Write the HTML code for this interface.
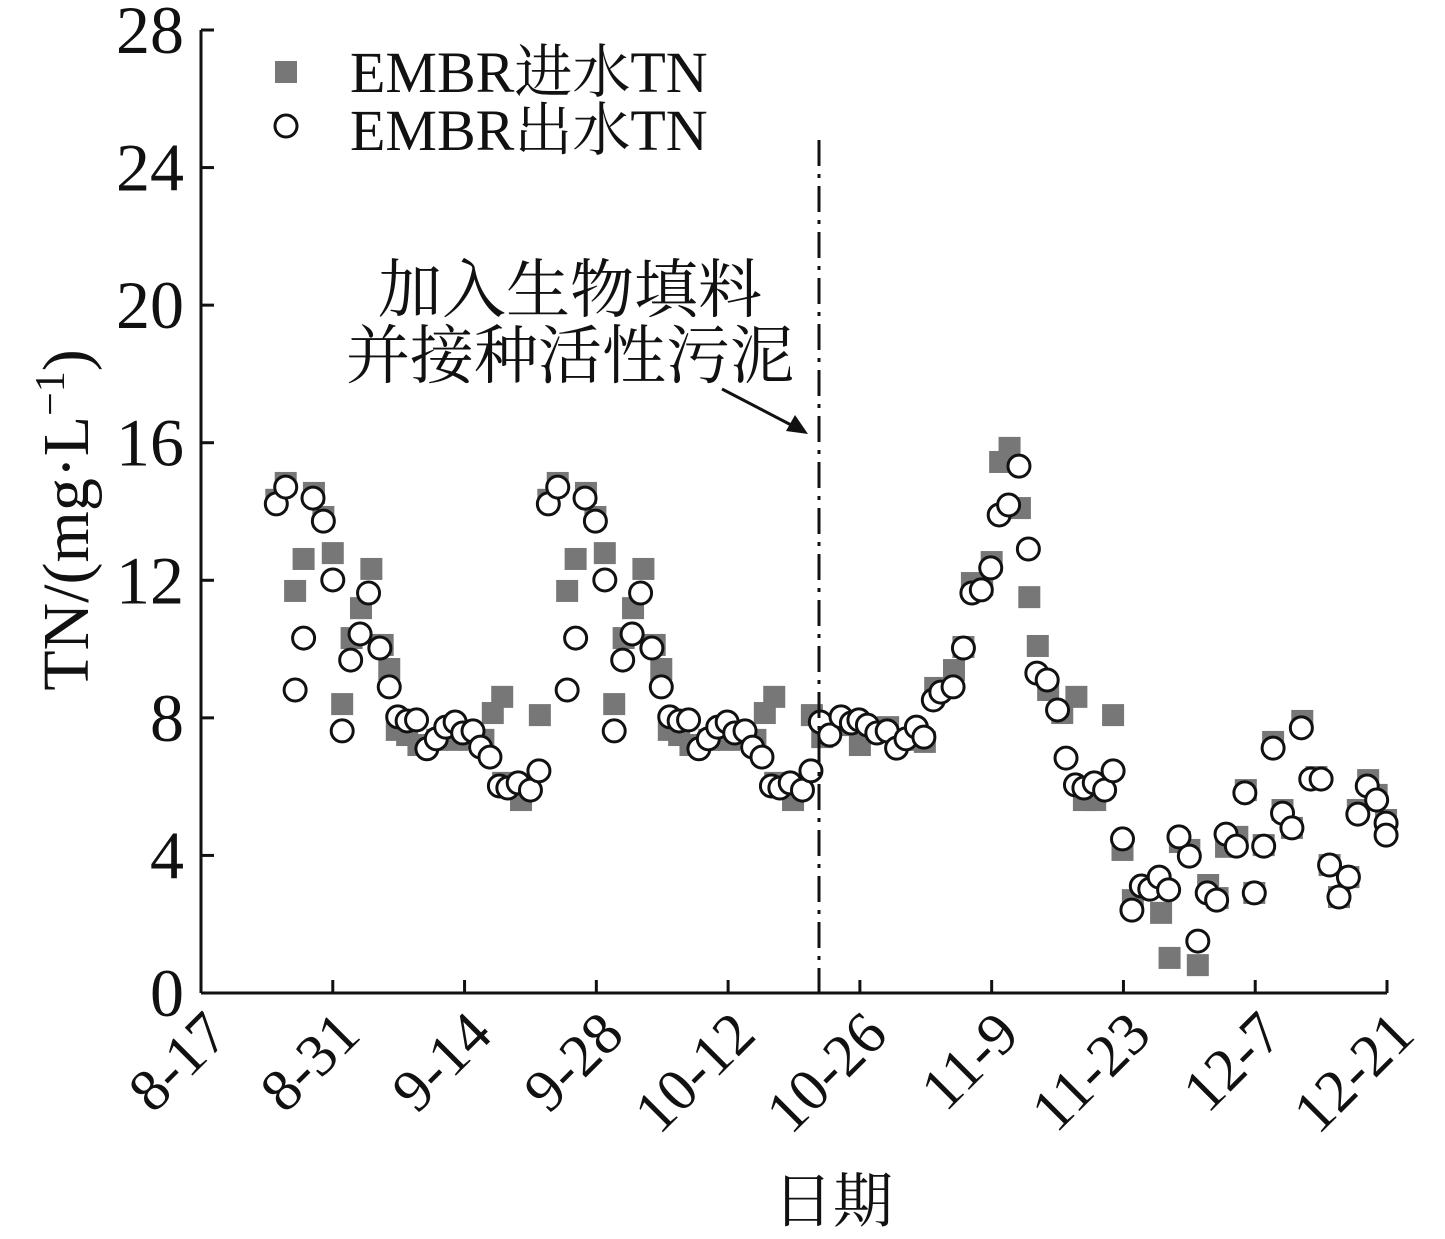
<!DOCTYPE html>
<html><head><meta charset="utf-8"><style>
html,body{margin:0;padding:0;background:#fff;}
svg text{font-family:"Liberation Serif","Noto Serif CJK SC",serif;fill:#111;}
</style></head><body>
<svg id="chart" width="1445" height="1234" viewBox="0 0 1445 1234" xmlns="http://www.w3.org/2000/svg">
<g id="axes"></g>
<g id="marks"></g>
<line x1="819" y1="140" x2="819" y2="993" stroke="#111" stroke-width="3" stroke-dasharray="26,8,4,8"/>
<text x="570" y="312" font-size="64" text-anchor="middle">加入生物填料</text>
<text x="570" y="378" font-size="64" text-anchor="middle">并接种活性污泥</text>
<line x1="722" y1="389" x2="795" y2="427" stroke="#111" stroke-width="3"/>
<polygon points="808,434 786,431 795,415" fill="#111"/>
<rect x="275" y="61" width="22" height="22" fill="#777"/>
<text x="350" y="92" font-size="58">EMBR进水TN</text>
<circle cx="286" cy="126" r="11" fill="#fff" stroke="#111" stroke-width="3"/>
<text x="350" y="150" font-size="58">EMBR出水TN</text>
<text transform="translate(88,520) rotate(-90)" font-size="66" text-anchor="middle">TN/(mg·L<tspan font-size="42" dy="-24">−1</tspan><tspan dy="24">)</tspan></text>
<text x="833" y="1222" font-size="60" text-anchor="middle">日期</text>
</svg>
<script>
const xTickLabels = ["8-17","8-31","9-14","9-28","10-12","10-26","11-9","11-23","12-7","12-21"];
const yTickLabels = [0,4,8,12,16,20,24,28];
// days since 8-17
const c1Days = [8.0,9.0,10.0,10.9,11.9,13.0,14.0,15.0,15.9,16.9,17.8,19.0,20.0,20.9,21.9,22.9,24.0,25.0,26.0,27.0,27.8,28.9,29.7,30.7,31.7,32.6,33.7,35.0,35.9];
const c1Vals = [14.22,14.71,8.81,10.32,14.39,13.72,12.01,7.62,9.68,10.44,11.63,10.03,8.90,8.03,7.91,7.94,7.10,7.39,7.73,7.88,7.56,7.62,7.15,6.86,6.02,5.96,6.11,5.90,6.46];
const c2Days = [65.8,66.8,68.0,69.1,69.9,70.8,71.8,72.9,73.9,74.9,76.0,76.8,77.8,78.6,79.9,81.0,81.9,82.9,83.9,84.8,85.8,86.9,87.9,88.8,89.9,91.0,91.9,92.9,93.8,94.9,96.0,96.9,97.9,98.9,99.9,100.8,101.8,102.8,103.9,105.0,105.9,106.9,107.9,108.9,110.0,110.9,111.9,112.9,113.9,114.9,115.9,116.9,117.9,119.0,119.9,120.9,121.9,122.9,123.9,124.9,125.9,125.9];
const c2Vals = [7.88,7.50,8.03,7.85,7.94,7.79,7.56,7.62,7.12,7.39,7.73,7.44,8.52,8.75,8.90,10.03,11.63,11.72,12.36,13.90,14.19,15.32,12.91,9.30,9.10,8.23,6.83,6.05,5.96,6.11,5.90,6.46,4.48,2.41,3.11,3.02,3.37,3.00,4.54,3.98,1.51,2.91,2.70,4.62,4.27,5.82,2.91,4.27,7.12,5.23,4.80,7.71,6.22,6.22,3.72,2.79,3.37,5.20,6.02,5.61,4.94,4.59];
const i1Days = [8.0,9.0,10.0,10.9,12.0,13.0,14.0,15.0,16.0,17.0,18.1,19.3,20.0,20.8,21.9,23.1,25.1,27.2,30.0,31.0,32.0,32.1,34.0,36.0];
const i1Vals = [14.34,14.83,11.69,12.62,14.54,13.84,12.79,8.40,10.32,11.19,12.33,10.12,9.42,7.65,7.50,7.21,7.36,7.36,7.36,8.14,8.61,6.11,5.61,8.08];
const i2Days = [66.0,68.0,70.0,73.0,74.9,76.9,78.0,80.0,81.0,81.9,83.0,84.0,84.9,85.9,87.0,88.0,88.9,90.0,91.5,93.0,93.8,95.0,96.9,97.9,99.0,102.0,102.9,104.0,105.0,105.9,107.0,108.0,108.9,110.1,111.0,111.9,112.9,113.9,114.9,115.9,117.0,118.5,119.9,120.9,121.9,122.9,124.0,124.9,125.9];
const i2Vals = [7.44,7.79,7.21,7.73,7.36,7.30,8.87,9.39,10.06,11.92,11.86,12.53,15.44,15.85,14.10,11.51,10.09,8.81,8.14,8.61,5.61,5.61,8.08,4.16,2.70,2.33,1.02,4.39,4.16,0.81,3.14,2.76,4.25,4.54,5.90,2.91,4.30,7.30,5.32,4.80,7.91,6.28,3.72,2.79,3.37,5.32,6.19,5.76,5.03];
const cycleShift = 28.9;

const X0=201,X1=1387,Y0=993,Y1=30;
const xs = d => X0 + d*(X1-X0)/126;
const ys = v => Y0 - v*(Y0-Y1)/28;
const NS="http://www.w3.org/2000/svg";
const axes=document.getElementById('axes'), marks=document.getElementById('marks');
function mk(tag,attrs,parent){const e=document.createElementNS(NS,tag);for(const k in attrs)e.setAttribute(k,attrs[k]);parent.appendChild(e);return e;}
let e;
e=mk('line',{x1:X0,y1:Y0,x2:X0,y2:Y1,stroke:'#111','stroke-width':3},axes);


e=mk('line',{x1:X0,y1:Y0,x2:X1,y2:Y0,stroke:'#111','stroke-width':3},axes);


yTickLabels.forEach(v=>{
  const y=ys(v);
  e=mk('line',{x1:X0,y1:y,x2:X0+13,y2:y,stroke:'#111','stroke-width':3},axes);
  
  
  e=mk('text',{x:184,y:y+23,'font-size':68,'text-anchor':'end'},axes);
  e.textContent=v;
  
  
});
xTickLabels.forEach((l,i)=>{
  const x=xs(i*14);
  e=mk('line',{x1:x,y1:Y0,x2:x,y2:Y0-13,stroke:'#111','stroke-width':3},axes);
  
  
  e=mk('text',{transform:`translate(${x+30},${Y0+44}) rotate(-45)`,'font-size':60,'text-anchor':'end'},axes);
  e.textContent=l;
  
  
});
function sq(d,v){
  e=mk('rect',{x:xs(d)-11,y:ys(v)-11,width:22,height:22,fill:'#777'},marks);
  
  
}
function ci(d,v){
  e=mk('circle',{cx:xs(d),cy:ys(v),r:11,fill:'#fff',stroke:'#111','stroke-width':3},marks);
  
  
}
i1Days.forEach((d,k)=>{sq(d,i1Vals[k]);sq(d+cycleShift,i1Vals[k]);});
i2Days.forEach((d,k)=>sq(d,i2Vals[k]));
c1Days.forEach((d,k)=>{ci(d,c1Vals[k]);ci(d+cycleShift,c1Vals[k]);});
c2Days.forEach((d,k)=>ci(d,c2Vals[k]));
</script>
</body></html>
